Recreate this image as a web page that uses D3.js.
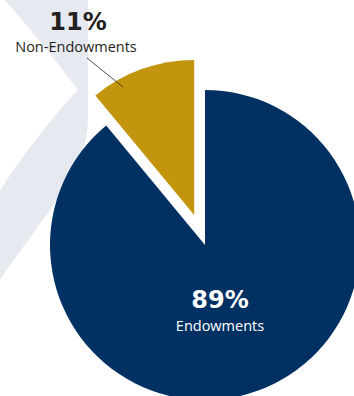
<!DOCTYPE html>
<html>
<head>
<meta charset="utf-8">
<script src="https://cdn.jsdelivr.net/npm/d3@7"></script>
<style>
  html, body { margin: 0; padding: 0; background: #fff; }
  svg { display: block; }
</style>
</head>
<body>
<div id="chart"></div>
<script>
// chart values
const categories = ["Endowments", "Non-Endowments"];
const shares = [89, 11];
const shareLabels = ["89%", "11%"];
const colors = ["#013063", "#c3950f"];

var width = 354, height = 396;
var cx = 205, cy = 245, radius = 155, explode = 32;

var svg = d3.select("#chart").append("svg")
    .attr("width", width)
    .attr("height", height);

// faint watermark band behind the pie
svg.append("path")
    .attr("d", "M5,0 Q40,40 78,90 Q40,130 0,190 L0,280 C40,220 88,170 88,120 L88,0 Z")
    .attr("fill", "#e6e9ef");

var pie = d3.pie().sort(null).value(function (d) { return d; });
var arcs = pie(shares);
var arc = d3.arc().innerRadius(0).outerRadius(radius);

var g = svg.append("g")
    .attr("transform", "translate(" + cx + "," + cy + ")");

g.selectAll("path.slice")
    .data(arcs)
    .enter().append("path")
    .attr("class", "slice")
    .attr("d", arc)
    .attr("fill", function (d, i) { return colors[i]; })
    .attr("transform", function (d, i) {
        if (i === 0) return null;
        var a = (d.startAngle + d.endAngle) / 2;
        return "translate(" + (Math.sin(a) * explode) + "," + (-Math.cos(a) * explode) + ")";
    });

// Endowments label inside the big slice
svg.append("text")
    .attr("x", 220).attr("y", 308)
    .attr("text-anchor", "middle")
    .attr("font-family", "'DejaVu Sans', sans-serif")
    .attr("font-weight", "bold")
    .attr("font-size", 24)
    .attr("fill", "#fff")
    .text(shareLabels[0]);
svg.append("text")
    .attr("x", 220).attr("y", 331)
    .attr("text-anchor", "middle")
    .attr("font-family", "'Open Sans', sans-serif")
    .attr("font-size", 14.5)
    .attr("fill", "#fff")
    .text(categories[0]);

// Non-Endowments label outside with a leader line
svg.append("text")
    .attr("x", 78).attr("y", 30)
    .attr("text-anchor", "middle")
    .attr("font-family", "'DejaVu Sans', sans-serif")
    .attr("font-weight", "bold")
    .attr("font-size", 24)
    .attr("fill", "#231f20")
    .text(shareLabels[1]);
svg.append("text")
    .attr("x", 76).attr("y", 52)
    .attr("text-anchor", "middle")
    .attr("font-family", "'Open Sans', sans-serif")
    .attr("font-size", 14.5)
    .attr("fill", "#231f20")
    .text(categories[1]);

svg.append("line")
    .attr("x1", 87).attr("y1", 58)
    .attr("x2", 123).attr("y2", 87)
    .attr("stroke", "#231f20")
    .attr("stroke-width", 0.8);
</script>
</body>
</html>
